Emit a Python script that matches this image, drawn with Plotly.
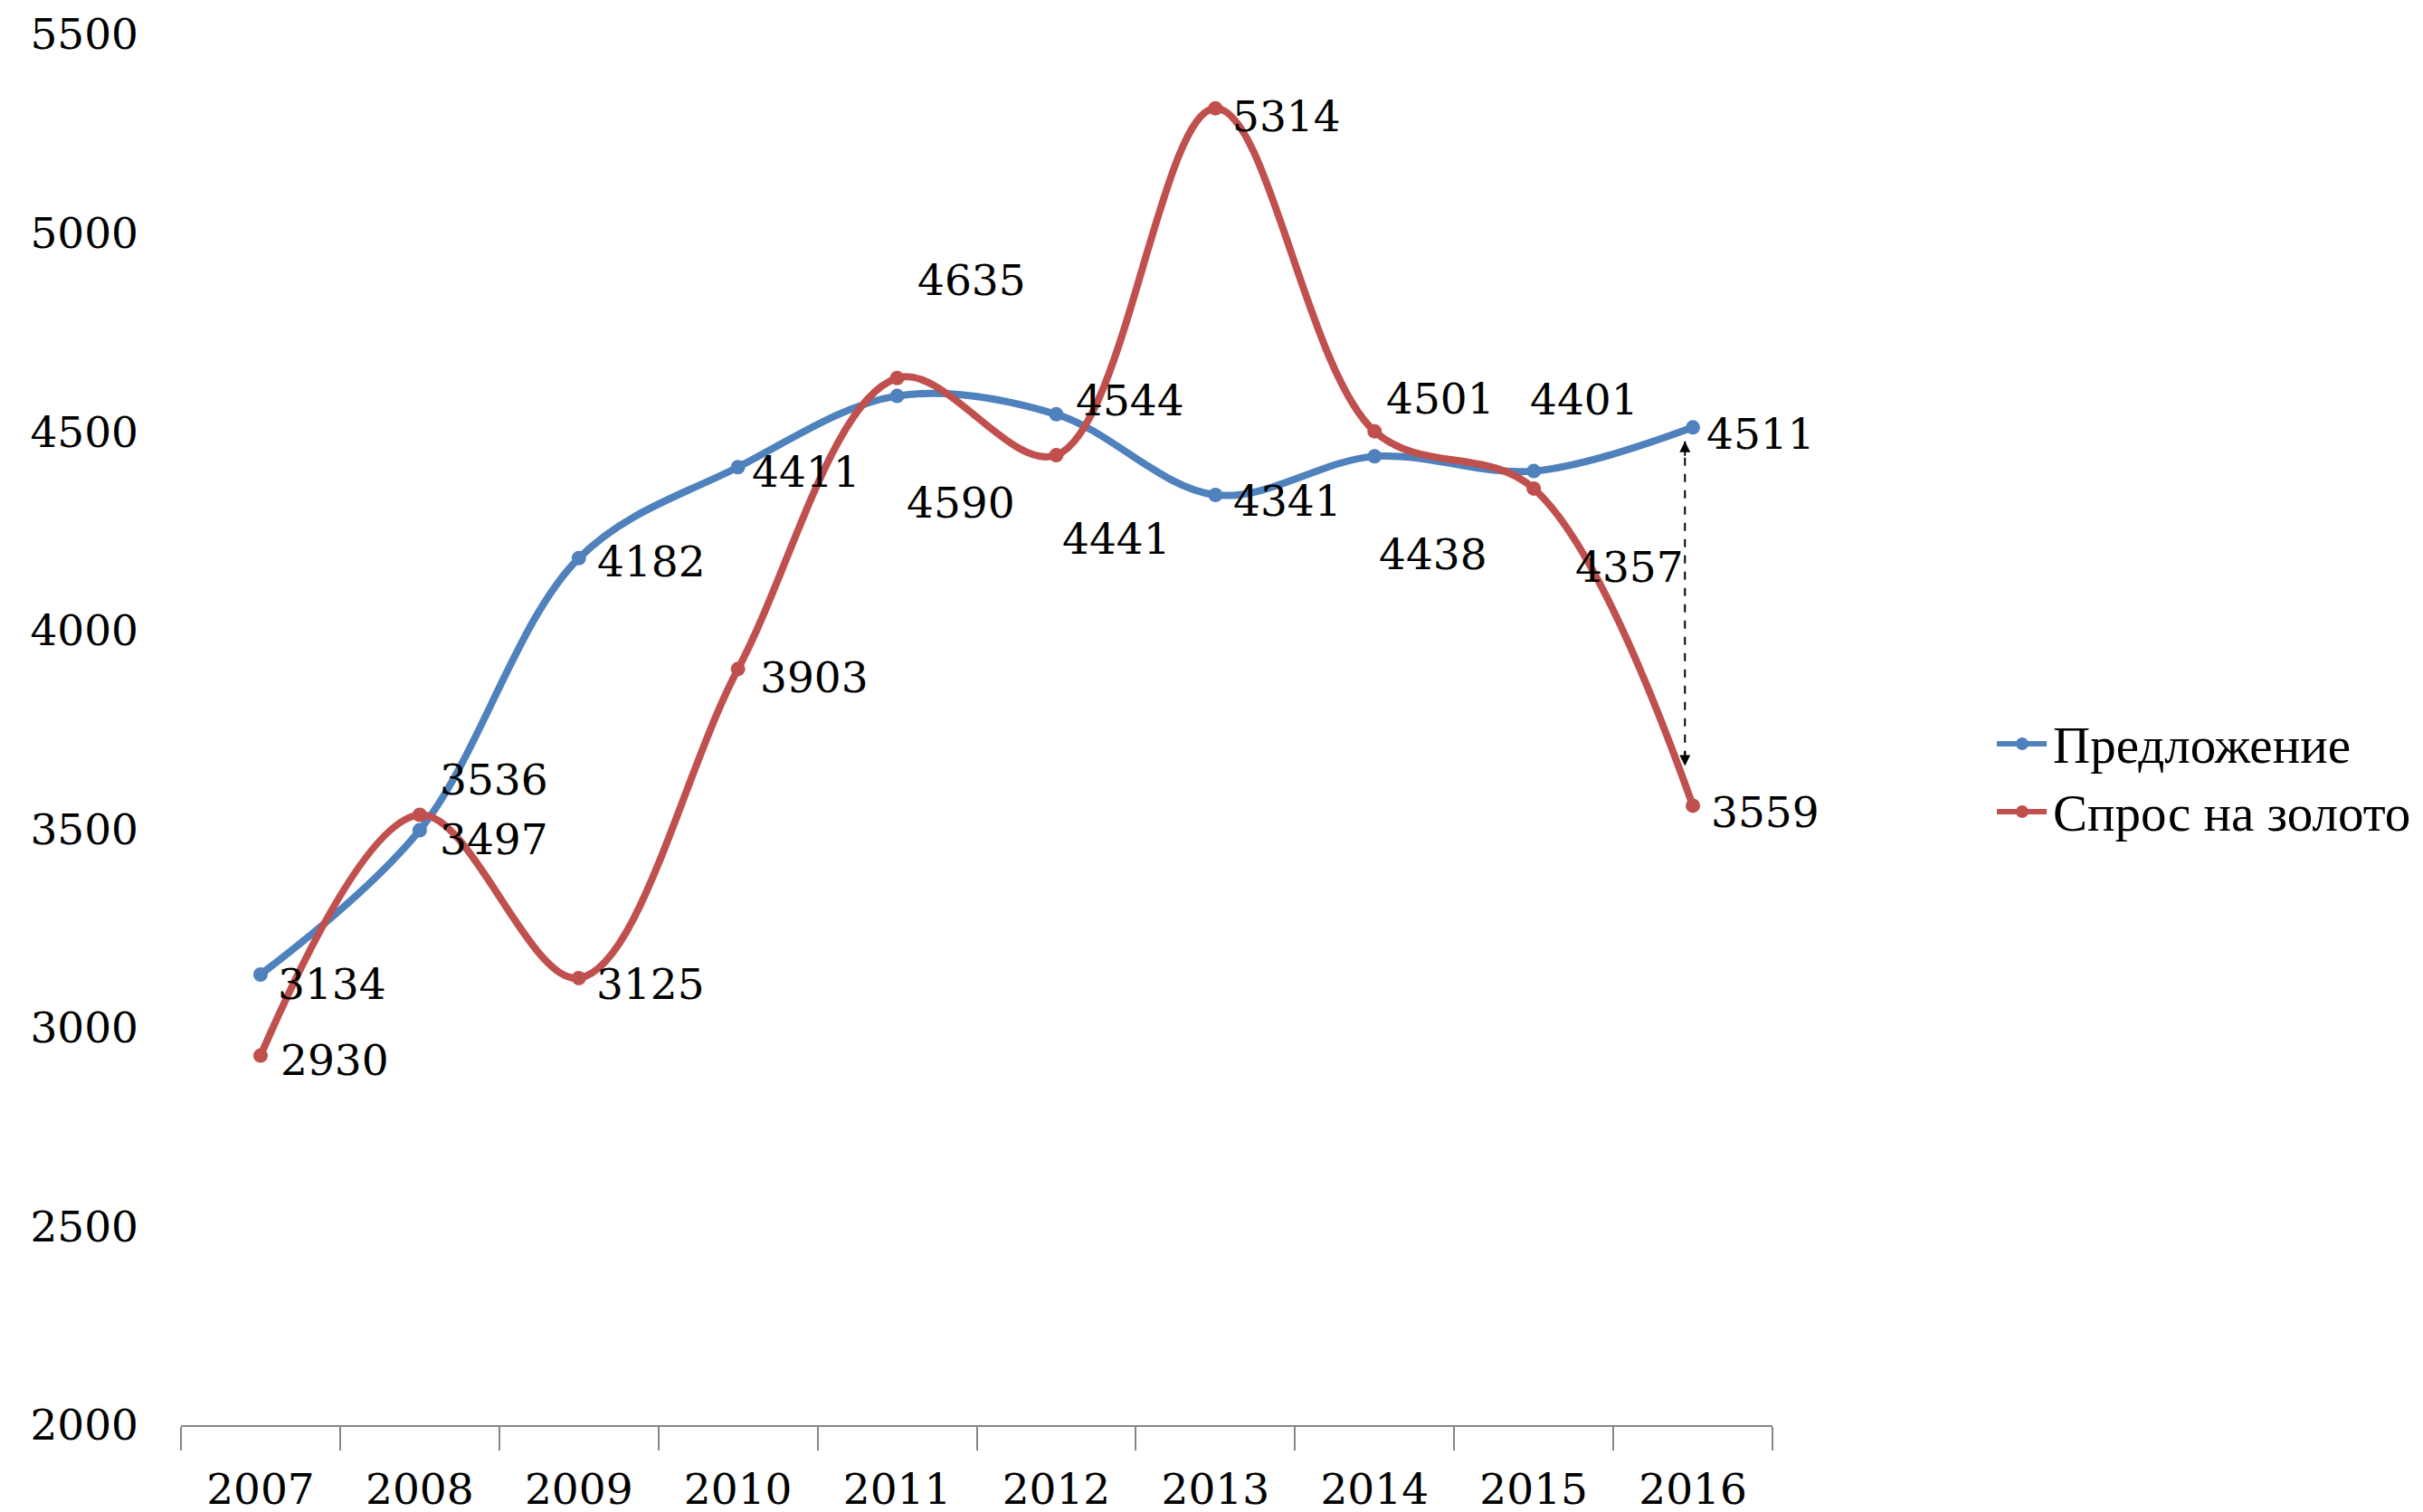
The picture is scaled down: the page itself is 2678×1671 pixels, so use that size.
import plotly.graph_objects as go

years = ["2007", "2008", "2009", "2010", "2011", "2012", "2013", "2014", "2015", "2016"]
supply = [3134, 3497, 4182, 4411, 4590, 4544, 4341, 4438, 4401, 4511]
demand = [2930, 3536, 3125, 3903, 4635, 4441, 5314, 4501, 4357, 3559]
y_ticks = [2000, 2500, 3000, 3500, 4000, 4500, 5000, 5500]
series_names = ["Предложение", "Спрос на золото"]

# label offsets in pixels (dx right, dy down)
supply_off = [(79, 10), (82, 10), (80, 4), (75, 5), (70, 118), (82, -15), (80, 7), (65, 108), (56, -79), (75, 7)]
demand_off = [(82, 5), (82, -39), (79, 7), (84, 9), (82, -108), (67, 92), (79, 9), (73, -36), (106, 87), (80, 7)]

BLUE = "#4F81BD"
RED = "#C0504D"
FONT = "Georgia, DejaVu Serif, serif"
LFONT = "Times New Roman, Liberation Serif, serif"
FS = 47

fig = go.Figure()
for name, vals, col in ((series_names[0], supply, BLUE), (series_names[1], demand, RED)):
    fig.add_trace(go.Scatter(x=years, y=vals, mode="lines+markers", name=name, showlegend=False,
                             line=dict(color=col, width=8, shape="spline", smoothing=1.0),
                             marker=dict(color=col, size=16)))

annotations = []
for vals, offs in ((supply, supply_off), (demand, demand_off)):
    for i, (v, (dx, dy)) in enumerate(zip(vals, offs)):
        annotations.append(dict(x=i, y=v, xref="x", yref="y", text=str(v), showarrow=False,
                                xshift=dx, yshift=-dy, font=dict(family=FONT, size=FS, color="black")))

# double-headed dashed arrow between the two 2016 values
xi = len(years) - 1 - 0.05
top = supply[-1] - 35
bot = demand[-1] + 100
fig.add_shape(type="line", xref="x", yref="y", x0=xi, x1=xi, y0=top, y1=bot,
              line=dict(color="black", width=2, dash="dash"))
for tip, tail in ((top, top - 40), (bot, bot + 40)):
    annotations.append(dict(x=xi, y=tip, ax=xi, ay=tail, xref="x", yref="y", axref="x", ayref="y",
                            text="", showarrow=True, arrowhead=2, arrowsize=1.2, arrowwidth=2,
                            arrowcolor="black"))

# legend drawn manually (longer line samples as in the original)
leg_rows = [0.4899, 0.4411]
for name, col, ly in zip(series_names, (BLUE, RED), leg_rows):
    fig.add_shape(type="line", xref="paper", yref="paper", x0=1.1410, x1=1.1723, y0=ly, y1=ly,
                  line=dict(color=col, width=6))
    fig.add_shape(type="circle", xref="paper", yref="paper", xsizemode="pixel", ysizemode="pixel",
                  xanchor=1.1569, yanchor=ly, x0=-7, x1=7, y0=-7, y1=7,
                  fillcolor=col, line=dict(color=col, width=0))
    annotations.append(dict(x=1.1751, y=ly, xref="paper", yref="paper", xanchor="left", yanchor="middle",
                            text=name, showarrow=False, yshift=-1,
                            font=dict(family=LFONT, size=57, color="black")))

fig.update_layout(
    width=2678, height=1671,
    margin=dict(l=192, r=727, t=30, b=104),
    paper_bgcolor="white", plot_bgcolor="white",
    font=dict(family=FONT, size=FS, color="black"),
    annotations=annotations,
    showlegend=False,
)
fig.update_xaxes(type="category", range=[-0.5, len(years) - 0.5], showline=True, linecolor="#868686",
                 linewidth=2, ticks="outside", tickson="boundaries", ticklen=26, tickcolor="#868686",
                 tickwidth=2, showgrid=False, zeroline=False, automargin=False, ticklabelstandoff=29,
                 tickfont=dict(family=FONT, size=FS, color="black"))
fig.update_yaxes(range=[2000, 5500], tickvals=y_ticks, showline=False, showgrid=False, zeroline=False,
                 ticks="", ticklabelstandoff=46, automargin=False,
                 tickfont=dict(family=FONT, size=FS, color="black"))

fig.write_html("out.html")
